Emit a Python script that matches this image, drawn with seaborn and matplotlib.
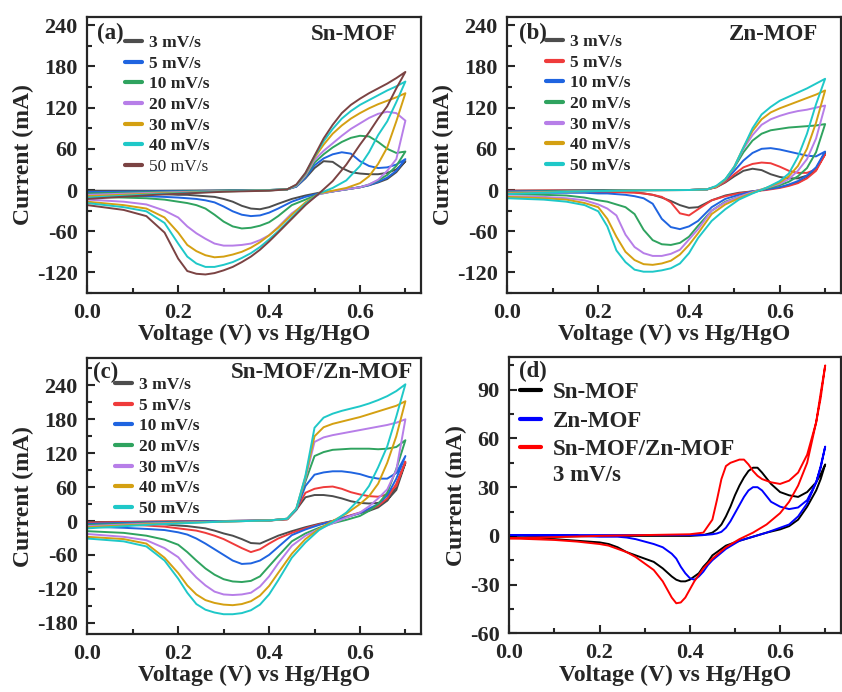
import matplotlib
matplotlib.use("Agg")
import matplotlib.pyplot as plt
import pandas as pd
import seaborn as sns
from matplotlib.lines import Line2D
from matplotlib.ticker import MultipleLocator, FormatStrFormatter

# ---------------- data ----------------
rates = ["3 mV/s", "5 mV/s", "10 mV/s", "20 mV/s", "30 mV/s", "40 mV/s", "50 mV/s"]

VF = [0, 0.15, 0.3, 0.4, 0.44, 0.46, 0.48, 0.5, 0.52, 0.54, 0.56, 0.58, 0.6, 0.62, 0.64, 0.66, 0.68, 0.7]
VR = [0.7, 0.68, 0.66, 0.64, 0.62, 0.6, 0.57, 0.54, 0.51, 0.48, 0.45, 0.42, 0.4, 0.38, 0.36, 0.34,
      0.32, 0.3, 0.28, 0.26, 0.24, 0.22, 0.2, 0.17, 0.13, 0.08, 0.0]

# (a) Sn-MOF
a3_f = [-1, -1, -0.5, 0, 1, 5, 17, 32, 42, 41, 32, 26, 24, 23, 23, 25, 30, 42]
a5_f = [-3, -2, -1, 0, 1, 5, 18, 36, 46, 52, 55, 53, 42, 35, 32, 33, 37, 45]
a10_f = [-5, -3, -1, 0, 1, 6, 20, 40, 52, 62, 70, 76, 79, 78, 70, 60, 54, 56]
a20_f = [-7, -4, -1.5, -0.5, 1, 6, 21, 44, 57, 68, 79, 89, 97, 105, 111, 114, 112, 101]
a30_f = [-9, -5, -2, -0.5, 1, 7, 23, 47, 66, 82, 94, 104, 112, 119, 125, 130, 135, 141]
a40_f = [-11, -6, -2, -0.5, 1, 7, 24, 49, 71, 89, 104, 115, 124, 131, 138, 145, 151, 158]
a50_f = [-13, -7, -2.5, -1, 1, 8, 25, 50, 75, 95, 112, 124, 133, 141, 148, 155, 163, 172]
a3_r = [42, 26, 16, 11, 7, 4, 1, -2, -4, -8, -13, -20, -25, -28, -27, -23, -17, -13, -10, -9, -8, -7, -7, -6, -5, -5, -4]
a5_r = [45, 28, 18, 12, 7, 4, 1, -2, -5, -10, -17, -27, -33, -37, -38, -36, -31, -24, -18, -15, -13, -12, -11, -10, -9, -8, -7]
a10_r = [56, 35, 22, 14, 8, 4, 1, -2, -6, -14, -22, -38, -47, -52, -55, -56, -53, -46, -36, -27, -22, -19, -17, -14, -12, -11, -10]
a20_r = [101, 45, 28, 15, 8, 4, 1, -2, -6, -20, -34, -54, -66, -73, -78, -80, -81, -81, -78, -71, -63, -53, -40, -30, -21, -17, -14]
a30_r = [141, 100, 62, 38, 20, 10, 3, -1, -5, -18, -36, -55, -66, -76, -84, -90, -94, -97, -98, -95, -89, -80, -62, -40, -27, -22, -17]
a40_r = [158, 128, 100, 80, 55, 35, 14, 3, -5, -20, -40, -60, -72, -83, -92, -99, -105, -109, -112, -112, -107, -97, -78, -48, -31, -25, -19]
a50_r = [172, 148, 122, 104, 84, 66, 37, 13, -5, -22, -42, -62, -75, -87, -97, -105, -112, -117, -121, -123, -122, -118, -100, -62, -38, -29, -22]

# (b) Zn-MOF
b3_f = [-1, -0.5, 0, 0, 1, 4, 11, 20, 28, 31, 29, 23, 19, 17, 17, 21, 31, 55]
b5_f = [-1, -0.5, 0, 0, 1, 4, 12, 23, 33, 38, 40, 39, 34, 28, 25, 25, 30, 52]
b10_f = [-2, -1, 0, 0, 1, 5, 14, 28, 43, 54, 60, 61, 59, 56, 53, 50, 49, 56]
b20_f = [-3, -1, 0, 0, 1, 5, 15, 33, 55, 72, 82, 87, 89, 91, 92, 93, 94, 96]
b30_f = [-4, -2, -0.5, 0, 1, 5, 15, 34, 60, 80, 95, 103, 108, 112, 115, 117, 120, 123]
b40_f = [-5, -2, -0.5, 0, 1, 5, 15, 34, 62, 86, 103, 113, 119, 124, 129, 134, 139, 145]
b50_f = [-6, -2, -0.5, 0, 1, 6, 16, 34, 62, 90, 110, 121, 130, 136, 142, 148, 155, 162]
b3_r = [55, 30, 18, 11, 7, 4, 1, -2, -4, -8, -15, -25, -26, -22, -16, -11, -7, -5, -3, -3, -2.5, -2.5, -2, -2, -2, -2, -2]
b5_r = [52, 28, 17, 10, 6, 3, 0, -2, -5, -9, -15, -28, -37, -34, -18, -10, -7, -5, -4, -3.5, -3, -3, -3, -3, -3, -3, -3]
b10_r = [56, 33, 21, 13, 8, 4, 1, -2, -7, -13, -25, -45, -53, -57, -54, -42, -20, -12, -9, -7, -6, -5, -5, -4, -4, -4, -4]
b20_r = [96, 55, 32, 20, 12, 7, 2, -4, -10, -17, -30, -52, -68, -77, -80, -79, -73, -58, -35, -25, -21, -17, -15, -11, -8, -7, -6]
b30_r = [123, 75, 45, 28, 16, 9, 3, -3, -10, -18, -30, -57, -72, -87, -93, -96, -96, -92, -83, -65, -37, -27, -21, -15, -12, -10, -9]
b40_r = [145, 98, 60, 35, 20, 11, 3, -4, -12, -21, -35, -63, -80, -94, -103, -107, -109, -108, -102, -90, -68, -42, -25, -19, -14, -12, -10]
b50_r = [162, 125, 82, 48, 24, 13, 3, -5, -14, -28, -45, -70, -92, -107, -114, -117, -119, -119, -116, -105, -88, -53, -31, -22, -17, -14, -12]

# (c) Sn-MOF/Zn-MOF
c3_f = [-2, -1, 0, 1, 3, 20, 42, 46, 46, 44, 40, 35, 32, 31, 32, 37, 55, 103]
c5_f = [-3, -1, 0, 1, 3, 20, 50, 57, 60, 61, 57, 51, 47, 44, 43, 47, 62, 105]
c10_f = [-5, -2, 0, 1, 4, 20, 62, 82, 86, 88, 88, 86, 83, 78, 75, 75, 85, 115]
c20_f = [-7, -3, -1, 1, 4, 21, 70, 115, 122, 126, 127, 128, 128, 128, 127, 128, 131, 143]
c30_f = [-9, -4, -1, 1, 4, 22, 75, 140, 148, 152, 155, 158, 161, 164, 167, 170, 174, 180]
c40_f = [-11, -5, -1, 1, 4, 22, 78, 150, 166, 172, 176, 180, 184, 189, 194, 199, 204, 212]
c50_f = [-13, -6, -1, 1, 4, 22, 80, 165, 183, 190, 195, 199, 203, 208, 214, 221, 230, 242]
c3_r = [103, 62, 36, 24, 18, 14, 7, 0, -5, -11, -18, -26, -33, -40, -39, -32, -26, -22, -17, -13, -11, -9, -8, -6, -5, -4, -3]
c5_r = [105, 66, 40, 27, 20, 15, 8, 0, -6, -13, -21, -31, -40, -50, -55, -48, -40, -32, -26, -21, -17, -15, -13, -10, -8, -6, -5]
c10_r = [115, 75, 45, 30, 22, 14, 7, 0, -7, -15, -25, -46, -60, -70, -75, -76, -70, -60, -50, -40, -31, -24, -20, -16, -14, -12, -10]
c20_r = [143, 92, 50, 30, 18, 9, 2, -4, -12, -22, -36, -62, -80, -98, -106, -108, -107, -103, -95, -84, -70, -55, -42, -33, -26, -21, -18]
c30_r = [180, 90, 56, 40, 26, 15, 6, -4, -14, -26, -44, -75, -98, -116, -127, -130, -131, -130, -125, -114, -100, -83, -64, -48, -34, -28, -23]
c40_r = [212, 150, 103, 66, 44, 30, 13, 0, -14, -32, -58, -92, -115, -132, -142, -147, -149, -148, -145, -140, -130, -114, -92, -65, -40, -32, -28]
c50_r = [242, 185, 132, 95, 62, 40, 15, -2, -16, -38, -65, -105, -130, -148, -158, -163, -165, -165, -162, -157, -147, -127, -102, -70, -45, -36, -31]

# (d) comparison at 3 mV/s
d_labels = ["Sn-MOF", "Zn-MOF", "Sn-MOF/Zn-MOF"]
VD_F = [0, 0.2, 0.4, 0.43, 0.45, 0.46, 0.47, 0.48, 0.49, 0.5, 0.51, 0.52, 0.53, 0.54, 0.55, 0.56,
        0.58, 0.6, 0.62, 0.64, 0.66, 0.68, 0.69, 0.7]
VD_R = [0.7, 0.69, 0.68, 0.66, 0.64, 0.62, 0.6, 0.57, 0.54, 0.51, 0.48, 0.45, 0.44, 0.43, 0.42, 0.41,
        0.4, 0.39, 0.38, 0.37, 0.36, 0.34, 0.32, 0.3, 0.28, 0.26, 0.24, 0.22, 0.2, 0.15, 0.1, 0.0]
d_sn_f = [-1, 0, 0, 0.5, 2, 4, 7, 12, 18, 25, 31, 36, 40, 42, 42, 39, 32, 27, 25, 24, 27, 33, 38, 44]
d_zn_f = [0.5, 0.5, 0.5, 0.5, 1, 1.5, 2.5, 5, 9, 14, 19, 24, 28, 30, 30, 28, 21, 18, 16.5, 17.5, 22, 33, 42, 55]
d_snzn_f = [-1.5, 0, 1, 2, 10, 22, 35, 43, 45, 46, 47, 47, 44, 40, 37, 35, 33, 32, 34, 39, 50, 70, 85, 105]
d_sn_r = [44, 35, 28, 18, 10, 6, 4, 2, -0.5, -3, -6, -12, -16, -19, -23, -25, -27, -28, -28, -27, -25,
          -20, -16, -14, -12, -10, -7, -5, -4, -3, -2, -1]
d_zn_r = [55, 43, 33, 20, 12, 7, 5, 2, -0.5, -3, -8, -15, -18, -22, -25, -27, -26, -23, -19, -14, -11,
          -7, -5, -3.5, -2, -1, -0.5, -0.5, -0.5, 0, 0, 0.5]
d_snzn_r = [105, 88, 70, 45, 31, 21, 14, 7, 2, -2, -7, -14, -17, -20, -24, -28, -33, -38, -41, -41.5, -38,
            -28, -21, -17, -13, -10, -8, -6, -5, -3.5, -2.5, -1.5]

# ---------------- style ----------------
sns.set_style("ticks")
plt.rcParams["font.family"] = ["Liberation Serif", "DejaVu Serif"]
plt.rcParams["font.weight"] = "bold"
plt.rcParams["axes.labelweight"] = "bold"
plt.rcParams["axes.unicode_minus"] = False

FS_TICK = 16
FS_LABEL = 17
FS_TITLE = 16.5
FS_LEG = 12.5

colors_a = ["#4d4d4d", "#1f64e0", "#2fa35f", "#b77ee8", "#d4a012", "#1fc8c8", "#7b4343"]
colors_bc = ["#4d4d4d", "#ef3b3b", "#1f64e0", "#2fa35f", "#b77ee8", "#d4a012", "#1fc8c8"]
colors_d = ["#000000", "#0000ff", "#ff0000"]

fig = plt.figure(figsize=(8.42, 6.92), dpi=100)
W, H = 842.0, 692.0


def add_ax(left, top, right, bottom):
    return fig.add_axes([left / W, 1 - bottom / H, (right - left) / W, (bottom - top) / H])


ax_a = add_ax(87.3, 17, 421.3, 293)
ax_b = add_ax(507.5, 17, 841, 293)
ax_c = add_ax(87.3, 358.3, 421.3, 634)
ax_d = add_ax(509.3, 357.3, 841, 633.3)


def draw(ax, vf, vr, fwd, rev, color):
    df = pd.DataFrame({"V": list(vf) + list(vr), "I": list(fwd) + list(rev)})
    sns.lineplot(data=df, x="V", y="I", sort=False, estimator=None, color=color,
                 lw=1.4, ax=ax, legend=False)


def style(ax, ylim, major, minor):
    ax.set_xlim(0, 0.735)
    ax.set_ylim(*ylim)
    ax.xaxis.set_major_locator(MultipleLocator(0.2))
    ax.xaxis.set_minor_locator(MultipleLocator(0.1))
    ax.xaxis.set_major_formatter(FormatStrFormatter("%.1f"))
    ax.yaxis.set_major_locator(MultipleLocator(major))
    ax.yaxis.set_minor_locator(MultipleLocator(minor))
    ax.tick_params(which="both", direction="in", width=1.5, top=False, right=False)
    ax.tick_params(which="major", length=6, labelsize=FS_TICK, pad=7)
    ax.tick_params(which="minor", length=3.5)
    for lab in ax.get_xticklabels() + ax.get_yticklabels():
        lab.set_fontweight("bold")
    for sp in ax.spines.values():
        sp.set_linewidth(1.6)
        sp.set_visible(True)
    ax.set_xlabel("Voltage (V) vs Hg/HgO", fontsize=FS_LABEL, fontweight="bold", labelpad=1)
    ax.set_ylabel("Current (mA)", fontsize=FS_LABEL, fontweight="bold", labelpad=2)


def rate_legend(ax, cols, x0, y0):
    handles = [Line2D([0], [0], color=c, lw=3) for c in cols]
    leg = ax.legend(handles, rates, loc="upper left", bbox_to_anchor=(x0, y0), frameon=False,
                    handlelength=1.0, handletextpad=0.4, labelspacing=0.26,
                    borderpad=0, borderaxespad=0, prop={"weight": "bold", "size": FS_LEG})
    return leg


# (a)
for f, r, c in zip([a3_f, a5_f, a10_f, a20_f, a30_f, a40_f, a50_f],
                   [a3_r, a5_r, a10_r, a20_r, a30_r, a40_r, a50_r], colors_a):
    draw(ax_a, VF, VR, f, r, c)
style(ax_a, (-150, 252), 60, 30)
leg = rate_legend(ax_a, colors_a, 0.113, 0.935)
leg.get_texts()[-1].set_fontweight("normal")
ax_a.text(0.029, 0.942, "(a)", transform=ax_a.transAxes, fontsize=FS_TITLE, fontweight="bold", va="center")
ax_a.text(0.93, 0.938, "Sn-MOF", transform=ax_a.transAxes, fontsize=FS_TITLE, fontweight="bold",
          va="center", ha="right")

# (b)
for f, r, c in zip([b3_f, b5_f, b10_f, b20_f, b30_f, b40_f, b50_f],
                   [b3_r, b5_r, b10_r, b20_r, b30_r, b40_r, b50_r], colors_bc):
    draw(ax_b, VF, VR, f, r, c)
style(ax_b, (-150, 252), 60, 30)
rate_legend(ax_b, colors_bc, 0.115, 0.939)
ax_b.text(0.034, 0.942, "(b)", transform=ax_b.transAxes, fontsize=FS_TITLE, fontweight="bold", va="center")
ax_b.text(0.93, 0.938, "Zn-MOF", transform=ax_b.transAxes, fontsize=FS_TITLE, fontweight="bold",
          va="center", ha="right")

# (c)
for f, r, c in zip([c3_f, c5_f, c10_f, c20_f, c30_f, c40_f, c50_f],
                   [c3_r, c5_r, c10_r, c20_r, c30_r, c40_r, c50_r], colors_bc):
    draw(ax_c, VF, VR, f, r, c)
style(ax_c, (-200, 288), 60, 30)
rate_legend(ax_c, colors_bc, 0.083, 0.933)
ax_c.text(0.017, 0.95, "(c)", transform=ax_c.transAxes, fontsize=FS_TITLE, fontweight="bold", va="center")
ax_c.text(0.975, 0.95, "Sn-MOF/Zn-MOF", transform=ax_c.transAxes, fontsize=FS_TITLE, fontweight="bold",
          va="center", ha="right")

# (d)
for f, r, c in zip([d_sn_f, d_zn_f, d_snzn_f], [d_sn_r, d_zn_r, d_snzn_r], colors_d):
    draw(ax_d, VD_F, VD_R, f, r, c)
style(ax_d, (-60, 110), 30, 15)
hd = [Line2D([0], [0], color=c, lw=3) for c in colors_d]
ax_d.legend(hd, d_labels, loc="upper left", bbox_to_anchor=(0.032, 0.909), frameon=False,
            handlelength=0.92, handletextpad=0.52, labelspacing=0.32, borderpad=0, borderaxespad=0,
            prop={"weight": "bold", "size": FS_TITLE})
ax_d.text(0.132, 0.57, "3 mV/s", transform=ax_d.transAxes, fontsize=FS_TITLE, fontweight="bold", va="center")
ax_d.text(0.029, 0.947, "(d)", transform=ax_d.transAxes, fontsize=FS_TITLE, fontweight="bold", va="center")

fig.savefig("out.png", dpi=100)
